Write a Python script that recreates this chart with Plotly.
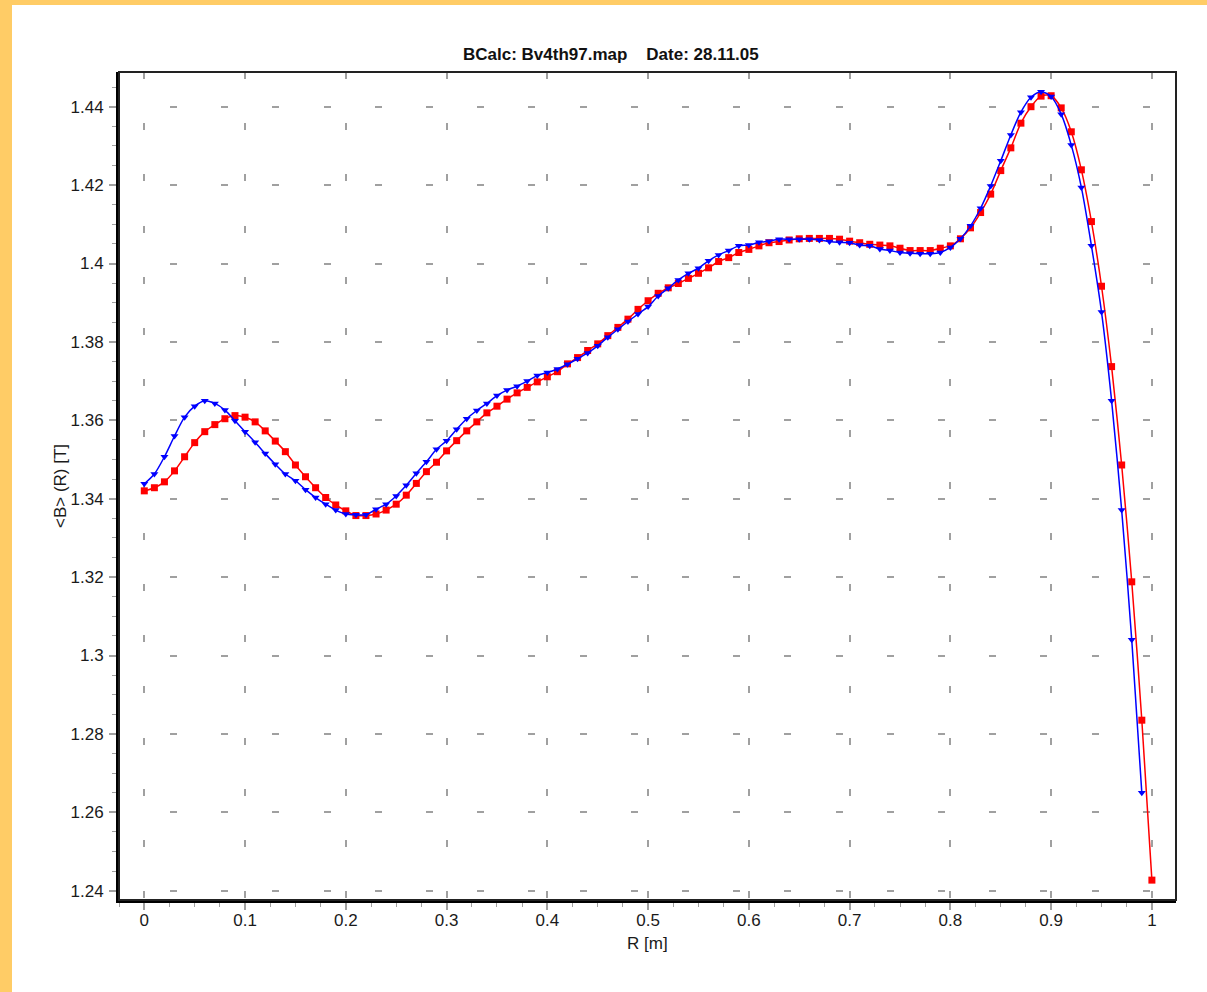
import plotly.graph_objects as go

# ---- data ----
R_red = [0.00, 0.01, 0.02, 0.03, 0.04, 0.05, 0.06, 0.07, 0.08, 0.09,
         0.10, 0.11, 0.12, 0.13, 0.14, 0.15, 0.16, 0.17, 0.18, 0.19,
         0.20, 0.21, 0.22, 0.23, 0.24, 0.25, 0.26, 0.27, 0.28, 0.29,
         0.30, 0.31, 0.32, 0.33, 0.34, 0.35, 0.36, 0.37, 0.38, 0.39,
         0.40, 0.41, 0.42, 0.43, 0.44, 0.45, 0.46, 0.47, 0.48, 0.49,
         0.50, 0.51, 0.52, 0.53, 0.54, 0.55, 0.56, 0.57, 0.58, 0.59,
         0.60, 0.61, 0.62, 0.63, 0.64, 0.65, 0.66, 0.67, 0.68, 0.69,
         0.70, 0.71, 0.72, 0.73, 0.74, 0.75, 0.76, 0.77, 0.78, 0.79,
         0.80, 0.81, 0.82, 0.83, 0.84, 0.85, 0.86, 0.87, 0.88, 0.89,
         0.90, 0.91, 0.92, 0.93, 0.94, 0.95, 0.96, 0.97, 0.98, 0.99,
         1.00]
B_red = [1.3420, 1.3428, 1.3443, 1.3471, 1.3507, 1.3543, 1.3571, 1.3589, 1.3604, 1.3612,
         1.3608, 1.3596, 1.3573, 1.3547, 1.3520, 1.3486, 1.3456, 1.3428, 1.3403, 1.3384,
         1.3369, 1.3357, 1.3357, 1.3361, 1.3371, 1.3386, 1.3409, 1.3439, 1.3469, 1.3493,
         1.3522, 1.3548, 1.3573, 1.3596, 1.3619, 1.3636, 1.3654, 1.3670, 1.3684, 1.3698,
         1.3711, 1.3724, 1.3744, 1.3760, 1.3778, 1.3795, 1.3816, 1.3837, 1.3858, 1.3883,
         1.3905, 1.3924, 1.3938, 1.3949, 1.3962, 1.3975, 1.3989, 1.4005, 1.4015, 1.4028,
         1.4036, 1.4045, 1.4053, 1.4056, 1.4060, 1.4063, 1.4064, 1.4064, 1.4064, 1.4062,
         1.4057, 1.4053, 1.4049, 1.4047, 1.4045, 1.4039, 1.4033, 1.4033, 1.4033, 1.4039,
         1.4045, 1.4063, 1.4091, 1.4130, 1.4177, 1.4237, 1.4295, 1.4358, 1.4400, 1.4427,
         1.4428, 1.4397, 1.4336, 1.4239, 1.4107, 1.3942, 1.3737, 1.3486, 1.3188, 1.2835,
         1.2427]

R_blue = [0.00, 0.01, 0.02, 0.03, 0.04, 0.05, 0.06, 0.07, 0.08, 0.09,
          0.10, 0.11, 0.12, 0.13, 0.14, 0.15, 0.16, 0.17, 0.18, 0.19,
          0.20, 0.21, 0.22, 0.23, 0.24, 0.25, 0.26, 0.27, 0.28, 0.29,
          0.30, 0.31, 0.32, 0.33, 0.34, 0.35, 0.36, 0.37, 0.38, 0.39,
          0.40, 0.41, 0.42, 0.43, 0.44, 0.45, 0.46, 0.47, 0.48, 0.49,
          0.50, 0.51, 0.52, 0.53, 0.54, 0.55, 0.56, 0.57, 0.58, 0.59,
          0.60, 0.61, 0.62, 0.63, 0.64, 0.65, 0.66, 0.67, 0.68, 0.69,
          0.70, 0.71, 0.72, 0.73, 0.74, 0.75, 0.76, 0.77, 0.78, 0.79,
          0.80, 0.81, 0.82, 0.83, 0.84, 0.85, 0.86, 0.87, 0.88, 0.89,
          0.90, 0.91, 0.92, 0.93, 0.94, 0.95, 0.96, 0.97, 0.98, 0.99]
B_blue = [1.3438, 1.3463, 1.3507, 1.3560, 1.3608, 1.3636, 1.3650, 1.3643, 1.3626, 1.3599,
          1.3571, 1.3544, 1.3515, 1.3488, 1.3463, 1.3446, 1.3423, 1.3403, 1.3386, 1.3371,
          1.3361, 1.3359, 1.3359, 1.3373, 1.3386, 1.3407, 1.3434, 1.3465, 1.3494, 1.3526,
          1.3548, 1.3577, 1.3604, 1.3625, 1.3643, 1.3663, 1.3677, 1.3687, 1.3700, 1.3714,
          1.3722, 1.3731, 1.3743, 1.3757, 1.3772, 1.3790, 1.3812, 1.3832, 1.3852, 1.3871,
          1.3890, 1.3917, 1.3937, 1.3958, 1.3975, 1.3988, 1.4007, 1.4022, 1.4033, 1.4045,
          1.4047, 1.4054, 1.4057, 1.4062, 1.4062, 1.4062, 1.4062, 1.4060, 1.4056, 1.4054,
          1.4053, 1.4047, 1.4045, 1.4037, 1.4033, 1.4028, 1.4026, 1.4025, 1.4025, 1.4028,
          1.4041, 1.4063, 1.4096, 1.4141, 1.4198, 1.4262, 1.4328, 1.4386, 1.4424, 1.4438,
          1.4426, 1.4381, 1.4302, 1.4194, 1.4045, 1.3876, 1.3650, 1.3371, 1.3040, 1.2650]

x_ticks = [0, 0.1, 0.2, 0.3, 0.4, 0.5, 0.6, 0.7, 0.8, 0.9, 1]
x_ticklabels = ["0", "0.1", "0.2", "0.3", "0.4", "0.5", "0.6", "0.7", "0.8", "0.9", "1"]
y_ticks = [1.24, 1.26, 1.28, 1.30, 1.32, 1.34, 1.36, 1.38, 1.40, 1.42, 1.44]
y_ticklabels = ["1.24", "1.26", "1.28", "1.3", "1.32", "1.34", "1.36", "1.38", "1.4", "1.42", "1.44"]

title_text = "<b>BCalc: Bv4th97.map\u00a0\u00a0\u00a0\u00a0Date: 28.11.05</b>"
x_title = "R [m]"
y_title = "&lt;B&gt; (R) [T]"

# ---- styling ----
FONT = "Arial, 'Liberation Sans', sans-serif"
GRID = "#a0a0a0"
W, H = 1207, 992
L, T, PW, PH = 119, 72, 1057, 828

hdash = "0px,51px," + ",".join(["7px,44.2px"] * 20) + ",0px,2000px"
vdash = "7px,44.2px"

fig = go.Figure()
fig.add_trace(go.Scatter(
    x=R_red, y=B_red, mode="lines+markers",
    line=dict(color="#ff0000", width=1.5, shape="spline", smoothing=0.8),
    marker=dict(symbol="square", size=7, color="#ff0000"),
    showlegend=False, hoverinfo="x+y"))
fig.add_trace(go.Scatter(
    x=R_blue, y=B_blue, mode="lines+markers",
    line=dict(color="#0000ff", width=1.5, shape="spline", smoothing=0.8),
    marker=dict(symbol="triangle-down", size=7, color="#0000ff"),
    showlegend=False, hoverinfo="x+y"))

fig.update_layout(
    width=W, height=H,
    margin=dict(l=L, r=W - L - PW, t=T, b=H - T - PH, pad=0),
    paper_bgcolor="white", plot_bgcolor="white",
    font=dict(family=FONT, size=17, color="#1a1a1a"),
    xaxis=dict(
        range=[-0.02511, 1.02392], tickmode="array", tickvals=x_ticks, ticktext=x_ticklabels,
        showgrid=True, gridcolor=GRID, gridwidth=2, griddash=vdash,
        ticks="outside", ticklen=7, tickwidth=1.5, tickcolor=GRID, ticklabelstandoff=-4,
        minor=dict(dtick=0.025, tick0=0, ticks="outside", ticklen=4, tickwidth=1, tickcolor=GRID, showgrid=False),
        showline=True, linecolor="black", linewidth=3, mirror=False, zeroline=False,
        tickfont=dict(family=FONT, size=17, color="#1a1a1a"),
    ),
    yaxis=dict(
        range=[1.237628, 1.448852], tickmode="array", tickvals=y_ticks, ticktext=y_ticklabels,
        showgrid=True, gridcolor=GRID, gridwidth=2, griddash=hdash,
        ticks="outside", ticklen=7, tickwidth=1.5, tickcolor=GRID, ticklabelstandoff=2,
        minor=dict(dtick=0.005, tick0=1.24, ticks="outside", ticklen=4, tickwidth=1, tickcolor=GRID, showgrid=False),
        showline=True, linecolor="black", linewidth=3, mirror=False, zeroline=False,
        tickfont=dict(family=FONT, size=17, color="#1a1a1a"),
    ),
    shapes=[
        dict(type="rect", xref="paper", yref="paper", x0=-0.2, x1=(12 - L) / PW,
             y0=-0.3, y1=1.3, fillcolor="#ffcc66", line=dict(width=0), layer="below"),
        dict(type="rect", xref="paper", yref="paper", x0=-0.2, x1=1.2,
             y0=(T + PH - 5) / PH, y1=1.3, fillcolor="#ffcc66", line=dict(width=0), layer="below"),
        dict(type="rect", xref="paper", yref="paper", x0=0, x1=1, y0=0, y1=1,
             line=dict(color="#222222", width=2), layer="above"),
    ],
    annotations=[
        dict(text=title_text, xref="paper", yref="paper", x=(610.8 - L) / PW, y=(T + PH - 54.5) / PH,
             xanchor="center", yanchor="middle", showarrow=False,
             font=dict(family=FONT, size=17, color="#111111")),
        dict(text=x_title, xref="paper", yref="paper", x=0.5, y=(T + PH - 943) / PH,
             xanchor="center", yanchor="middle", showarrow=False,
             font=dict(family=FONT, size=17, color="#1a1a1a")),
        dict(text=y_title, xref="paper", yref="paper", x=(60 - L) / PW, y=0.5, textangle=-90,
             xanchor="center", yanchor="middle", showarrow=False,
             font=dict(family=FONT, size=17, color="#1a1a1a")),
    ],
)

fig.write_html(
    "out.html",
    config={"displayModeBar": False},
    post_script="document.body.style.margin='0';document.body.style.padding='0';document.body.style.overflow='hidden';",
)
